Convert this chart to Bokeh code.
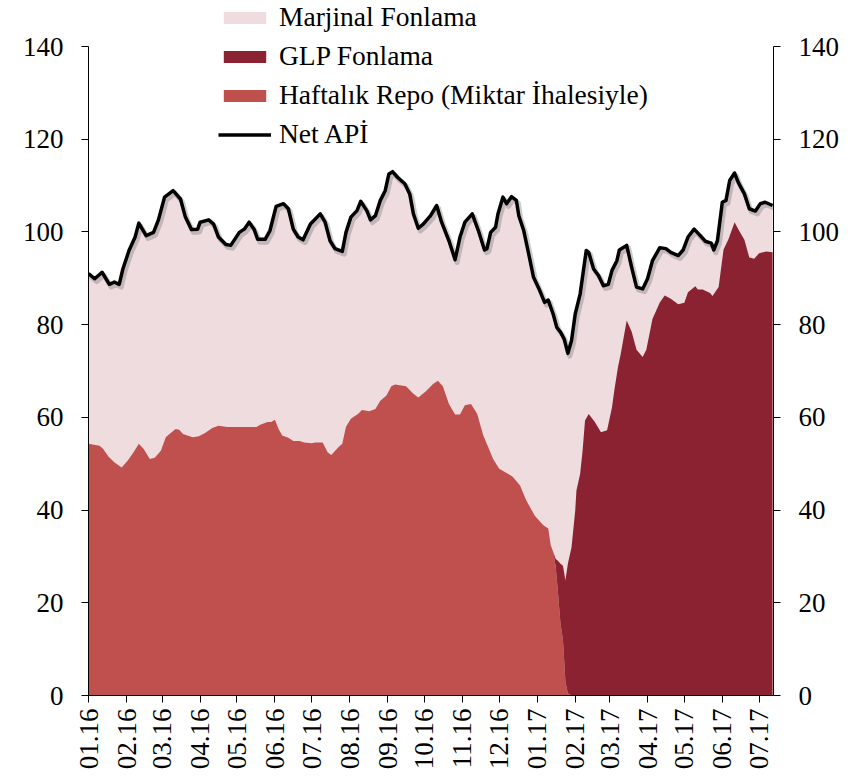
import math
import pandas as pd
from bokeh.plotting import figure
from bokeh.models import (ColumnDataSource, Range1d, LinearAxis, FixedTicker,
                          DatetimeTickFormatter, Legend, LegendItem)
from bokeh.transform import dodge
from bokeh.embed import file_html
from bokeh.resources import INLINE

# ---------------- data ----------------
net_dates = [
    "2016-01-01", "2016-01-06", "2016-01-12", "2016-01-18", "2016-01-22", "2016-01-26", "2016-01-29",
    "2016-02-03", "2016-02-08", "2016-02-11", "2016-02-17", "2016-02-23", "2016-02-27",
    "2016-03-03", "2016-03-10", "2016-03-16", "2016-03-20", "2016-03-25", "2016-03-30",
    "2016-04-01", "2016-04-08", "2016-04-12", "2016-04-16", "2016-04-22", "2016-04-26",
    "2016-05-03", "2016-05-07", "2016-05-11", "2016-05-15", "2016-05-18", "2016-05-24", "2016-05-28",
    "2016-06-02", "2016-06-08", "2016-06-12", "2016-06-16", "2016-06-20", "2016-06-24", "2016-06-30",
    "2016-07-08", "2016-07-12", "2016-07-16", "2016-07-20", "2016-07-26", "2016-07-29",
    "2016-08-02", "2016-08-07", "2016-08-10", "2016-08-15", "2016-08-18", "2016-08-22", "2016-08-26", "2016-08-30",
    "2016-09-02", "2016-09-05", "2016-09-09", "2016-09-15", "2016-09-19", "2016-09-22", "2016-09-26", "2016-09-30",
    "2016-10-06", "2016-10-11", "2016-10-15", "2016-10-21", "2016-10-26", "2016-10-30",
    "2016-11-03", "2016-11-09", "2016-11-14", "2016-11-19", "2016-11-21", "2016-11-24", "2016-11-28", "2016-11-30",
    "2016-12-04", "2016-12-07", "2016-12-11", "2016-12-15", "2016-12-17", "2016-12-21", "2016-12-25", "2016-12-29",
    "2017-01-03", "2017-01-07", "2017-01-10", "2017-01-14", "2017-01-17", "2017-01-20", "2017-01-23", "2017-01-26", "2017-01-29",
    "2017-02-01", "2017-02-05", "2017-02-10", "2017-02-12", "2017-02-16", "2017-02-20", "2017-02-24", "2017-02-28",
    "2017-03-03", "2017-03-07", "2017-03-09", "2017-03-15", "2017-03-19", "2017-03-23", "2017-03-28",
    "2017-04-01", "2017-04-05", "2017-04-11", "2017-04-16", "2017-04-20", "2017-04-26", "2017-04-30",
    "2017-05-04", "2017-05-09", "2017-05-14", "2017-05-18", "2017-05-23", "2017-05-25", "2017-05-28",
    "2017-06-01", "2017-06-04", "2017-06-07", "2017-06-11", "2017-06-14", "2017-06-19", "2017-06-23", "2017-06-28",
    "2017-07-02", "2017-07-06", "2017-07-12",
]
net_api = [
    91.0, 89.9, 91.3, 88.7, 89.2, 88.7, 92.0,
    96.0, 98.9, 101.9, 99.2, 99.9, 102.6,
    107.5, 108.9, 107.1, 103.2, 100.5, 100.6,
    102.1, 102.6, 101.7, 98.9, 97.3, 97.1,
    99.9, 100.6, 102.1, 100.6, 98.4, 98.4, 100.3,
    105.5, 106.1, 105.0, 100.6, 98.9, 98.3, 101.7,
    103.9, 102.1, 98.1, 96.4, 95.8, 99.9,
    103.2, 104.6, 106.6, 104.6, 102.6, 103.5, 106.8, 108.9,
    112.5, 113.0, 111.8, 110.4, 108.2, 103.9, 100.8, 101.7,
    103.5, 105.7, 102.1, 98.1, 94.0, 98.9,
    102.1, 103.9, 100.3, 96.1, 96.4, 99.9, 101.0, 103.9,
    107.5, 106.1, 107.6, 106.8, 103.5, 100.3, 95.3, 90.2,
    87.4, 84.8, 85.3, 82.3, 79.4, 78.4, 76.9, 73.8, 76.6,
    82.3, 86.6, 96.0, 95.6, 92.0, 90.6, 88.4, 88.7,
    91.7, 93.8, 96.1, 97.1, 92.4, 88.1, 87.7,
    89.9, 93.8, 96.6, 96.4, 95.6, 94.9, 96.1,
    98.9, 100.6, 99.2, 98.0, 97.6, 96.1, 98.1,
    106.4, 106.8, 111.1, 112.7, 110.7, 108.2, 105.0, 104.5,
    106.1, 106.4, 105.7,
]

stack_dates = [
    "2016-01-01", "2016-01-10", "2016-01-13", "2016-01-17", "2016-01-22", "2016-01-28",
    "2016-02-02", "2016-02-07", "2016-02-11", "2016-02-15", "2016-02-20", "2016-02-24", "2016-02-29",
    "2016-03-04", "2016-03-07", "2016-03-12", "2016-03-15", "2016-03-18", "2016-03-26", "2016-03-31",
    "2016-04-05", "2016-04-11", "2016-04-16", "2016-04-23",
    "2016-05-17", "2016-05-20", "2016-05-26", "2016-05-29",
    "2016-06-01", "2016-06-04", "2016-06-07", "2016-06-12", "2016-06-16", "2016-06-21", "2016-06-25",
    "2016-07-01", "2016-07-04", "2016-07-10", "2016-07-14", "2016-07-17", "2016-07-23", "2016-07-26", "2016-07-29",
    "2016-08-02", "2016-08-08", "2016-08-11", "2016-08-17", "2016-08-22", "2016-08-26", "2016-08-31",
    "2016-09-04", "2016-09-07", "2016-09-16", "2016-09-22", "2016-09-26",
    "2016-10-02", "2016-10-08", "2016-10-12", "2016-10-16", "2016-10-21", "2016-10-26", "2016-10-30",
    "2016-11-03", "2016-11-08", "2016-11-13", "2016-11-18", "2016-11-22", "2016-11-26",
    "2016-12-01", "2016-12-07", "2016-12-12", "2016-12-18", "2016-12-23", "2016-12-30",
    "2017-01-06", "2017-01-10", "2017-01-12", "2017-01-14", "2017-01-16", "2017-01-18", "2017-01-20",
    "2017-01-22", "2017-01-24", "2017-01-26", "2017-01-29",
    "2017-02-01", "2017-02-02", "2017-02-05", "2017-02-07", "2017-02-09", "2017-02-12", "2017-02-17",
    "2017-02-22", "2017-02-27",
    "2017-03-03", "2017-03-05", "2017-03-08", "2017-03-10", "2017-03-15", "2017-03-19", "2017-03-23",
    "2017-03-28", "2017-03-31",
    "2017-04-05", "2017-04-11", "2017-04-15", "2017-04-20", "2017-04-26",
    "2017-05-01", "2017-05-04", "2017-05-10", "2017-05-12", "2017-05-16", "2017-05-22", "2017-05-24", "2017-05-29",
    "2017-06-02", "2017-06-06", "2017-06-11", "2017-06-14", "2017-06-19", "2017-06-23", "2017-06-27",
    "2017-07-01", "2017-07-07", "2017-07-12",
]
repo = [
    54.3, 53.9, 53.2, 51.6, 50.3, 49.2,
    50.7, 52.6, 54.3, 53.2, 51.0, 51.3, 52.8,
    55.7, 56.4, 57.5, 57.3, 56.4, 55.7, 55.9,
    56.6, 57.7, 58.2, 57.9,
    57.9, 58.4, 59.0, 59.0,
    59.5, 57.5, 56.1, 55.6, 54.9, 54.9, 54.6,
    54.4, 54.6, 54.6, 52.5, 51.9, 53.6, 54.3, 58.0,
    59.7, 60.8, 61.6, 61.3, 61.8, 63.6, 64.7,
    66.7, 67.1, 66.7, 65.1, 64.3,
    65.6, 67.2, 67.9, 66.7, 62.9, 60.6, 60.6,
    62.6, 62.9, 60.8, 56.1, 53.6, 51.0,
    48.9, 48.0, 47.2, 45.3, 42.1, 38.8,
    36.7, 36.0, 32.4, 31.0, 28.0, 22.0, 15.4,
    12.0, 3.0, 0.5, 0.0,
    0.0, 0.0, 0.0, 0.0, 0.0, 0.0, 0.0,
    0.0, 0.0,
    0.0, 0.0, 0.0, 0.0, 0.0, 0.0, 0.0,
    0.0, 0.0,
    0.0, 0.0, 0.0, 0.0, 0.0,
    0.0, 0.0, 0.0, 0.0, 0.0, 0.0, 0.0, 0.0,
    0.0, 0.0, 0.0, 0.0, 0.0, 0.0, 0.0,
    0.0, 0.0, 0.0,
]
glp = [
    0.0, 0.0, 0.0, 0.0, 0.0, 0.0,
    0.0, 0.0, 0.0, 0.0, 0.0, 0.0, 0.0,
    0.0, 0.0, 0.0, 0.0, 0.0, 0.0, 0.0,
    0.0, 0.0, 0.0, 0.0,
    0.0, 0.0, 0.0, 0.0,
    0.0, 0.0, 0.0, 0.0, 0.0, 0.0, 0.0,
    0.0, 0.0, 0.0, 0.0, 0.0, 0.0, 0.0, 0.0,
    0.0, 0.0, 0.0, 0.0, 0.0, 0.0, 0.0,
    0.0, 0.0, 0.0, 0.0, 0.0,
    0.0, 0.0, 0.0, 0.0, 0.0, 0.0, 0.0,
    0.0, 0.0, 0.0, 0.0, 0.0, 0.0,
    0.0, 0.0, 0.0, 0.0, 0.0, 0.0,
    0.0, 0.0, 0.0, 0.0, 1.5, 7.0, 13.0,
    16.0, 21.8, 27.9, 32.0,
    39.9, 44.2, 47.8, 52.8, 59.3, 60.7, 59.0,
    56.8, 57.2,
    62.2, 66.0, 71.0, 73.5, 80.9, 78.5, 74.6,
    73.0, 74.6,
    81.2, 84.8, 86.3, 85.6, 84.4,
    84.7, 87.0, 88.3, 87.6, 87.6, 86.8, 86.2, 88.1,
    96.2, 98.4, 102.1, 100.6, 98.3, 94.5, 94.2,
    95.4, 95.8, 95.6,
]

legend_labels = ["Marjinal Fonlama", "GLP Fonlama",
                 "Haftalık Repo (Miktar İhalesiyle)", "Net APİ"]
y_ticks = [0, 20, 40, 60, 80, 100, 120, 140]
y_axis_bounds = (0, 140)
month_ticks = pd.date_range("2016-01-01", "2017-07-01", freq="MS")

# ---------------- styles / layout ----------------
C_MARJ = "#EFDCDF"
C_GLP = "#8A2231"
C_REPO = "#C0504D"
FONT = "Liberation Serif"
TICK_SIZE = "27px"
DAY_MS = 86400000
FRAME_H = 695          # frame reaches the top of the canvas so the legend is not clipped
AXIS_PX = 649          # pixel height of the 0..140 axis span
y_top = y_axis_bounds[1] * FRAME_H / AXIS_PX

net_src = ColumnDataSource(dict(date=pd.to_datetime(net_dates), net=net_api))
stk_src = ColumnDataSource(dict(date=pd.to_datetime(stack_dates), repo=repo, glp=glp))

p = figure(frame_width=685, frame_height=FRAME_H,
           x_axis_type="datetime",
           x_range=Range1d(pd.Timestamp("2015-12-31 23:00"), pd.Timestamp("2017-07-12 18:00")),
           y_range=Range1d(0, y_top),
           output_backend="svg", toolbar_location=None,
           min_border_left=88, min_border_right=84,
           min_border_top=0, min_border_bottom=84)
p.background_fill_color = "white"
p.border_fill_color = "white"
p.outline_line_color = None
p.xgrid.visible = False
p.ygrid.visible = False

marj = p.varea(x="date", y1=0, y2="net", source=net_src, fill_color=C_MARJ)
stack = p.varea_stack(["repo", "glp"], x="date", color=[C_REPO, C_GLP], source=stk_src)
p.line(x=dodge("date", 1.6 * DAY_MS), y=dodge("net", -0.6), source=net_src,
       line_color="#707070", line_alpha=0.35, line_width=5, line_join="round")
net_line = p.line(x="date", y="net", source=net_src, line_color="black",
                  line_width=3.5, line_join="round")

right_axis = LinearAxis()
p.add_layout(right_axis, "right")

for ax in (p.yaxis[0], right_axis):
    ax.ticker = FixedTicker(ticks=y_ticks)
    ax.bounds = y_axis_bounds

xax = p.xaxis[0]
xax.ticker = FixedTicker(ticks=list(month_ticks.astype("int64") // 10**6))
fmt = "%m.%y"
xax.formatter = DatetimeTickFormatter(microseconds=fmt, milliseconds=fmt, seconds=fmt,
                                      minsec=fmt, minutes=fmt, hourmin=fmt, hours=fmt,
                                      days=fmt, months=fmt, years=fmt)
xax.major_label_orientation = math.pi / 2
xax.major_label_standoff = 6

for ax in (xax, p.yaxis[0], right_axis):
    ax.axis_line_color = "black"
    ax.axis_line_width = 1
    ax.major_tick_line_color = "black"
    ax.major_tick_in = 0
    ax.major_tick_out = 7
    ax.minor_tick_line_color = None
    ax.major_label_text_font = FONT
    ax.major_label_text_font_size = TICK_SIZE
    ax.major_label_text_color = "black"
p.yaxis[0].major_label_standoff = 18
right_axis.major_label_standoff = 18

legend = Legend(items=[
    LegendItem(label=legend_labels[0], renderers=[marj]),
    LegendItem(label=legend_labels[1], renderers=[stack[1]]),
    LegendItem(label=legend_labels[2], renderers=[stack[0]]),
    LegendItem(label=legend_labels[3], renderers=[net_line]),
], location=(130, 545))
legend.glyph_width = 53
legend.glyph_height = 15
legend.label_standoff = 8
legend.spacing = 7
legend.padding = 0
legend.margin = 0
legend.border_line_alpha = 0
legend.background_fill_alpha = 0
legend.label_text_font = FONT
legend.label_text_font_size = "27.5px"
legend.label_text_color = "black"
p.add_layout(legend, "center")

open("out.html", "w").write(file_html(p, INLINE))
